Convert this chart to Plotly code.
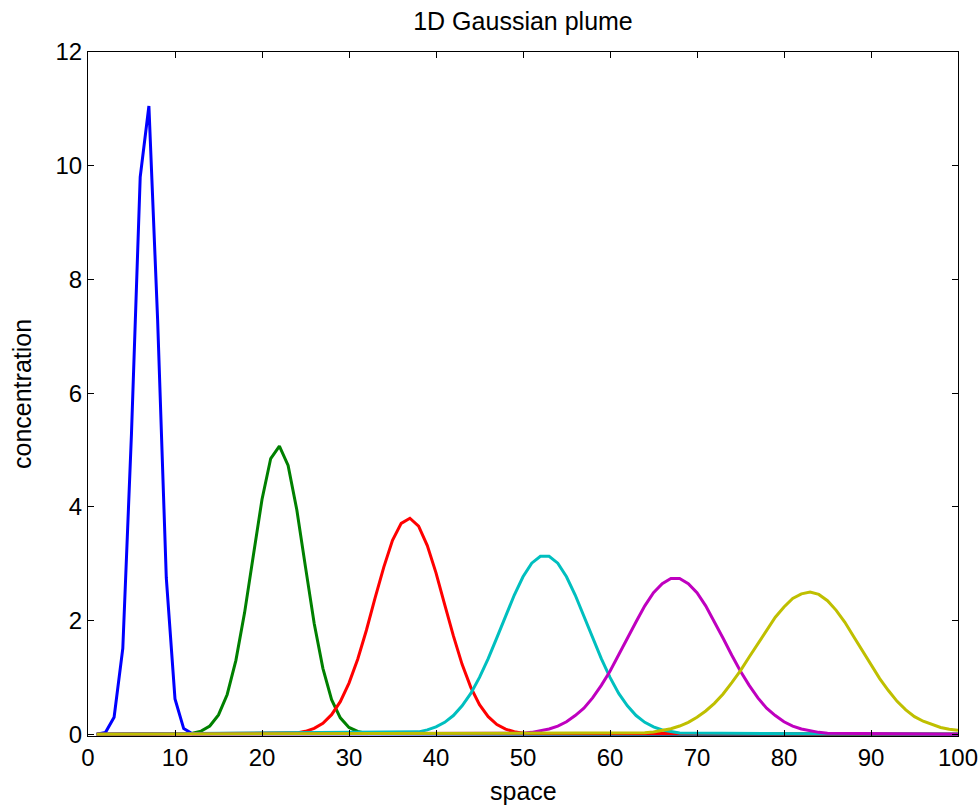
import plotly.graph_objects as go

# ---- data ----
blue_x = [1, 2, 3, 4, 5, 6, 7, 8, 9, 10, 11, 12, 100]
blue_y = [0, 0.03, 0.3, 1.51, 5.3, 9.8, 11.05, 7.3, 2.75, 0.62, 0.1, 0.01, 0]

green_x = [1, 12, 13, 14, 15, 16, 17, 18, 19, 20, 21, 22, 23, 24, 25, 26, 27, 28, 29, 30, 31, 32, 100]
green_y = [0, 0.02, 0.056, 0.146, 0.34, 0.70, 1.30, 2.14, 3.14, 4.13, 4.85, 5.07, 4.73, 3.95, 2.94,
           1.95, 1.16, 0.61, 0.29, 0.12, 0.05, 0.015, 0]

red_x = [1, 24, 25, 26, 27, 28, 29, 30, 31, 32, 33, 34, 35, 36, 37, 38, 39, 40, 41, 42, 43, 44, 45,
         46, 47, 48, 49, 50, 100]
red_y = [0, 0.025, 0.052, 0.104, 0.195, 0.345, 0.573, 0.90, 1.32, 1.83, 2.40, 2.94, 3.41, 3.71, 3.80,
         3.66, 3.32, 2.84, 2.28, 1.73, 1.23, 0.825, 0.52, 0.31, 0.17, 0.09, 0.045, 0.02, 0]

cyan_x = [1, 38, 39, 40, 41, 42, 43, 44, 45, 46, 47, 48, 49, 50, 51, 52, 53, 54, 55, 56, 57, 58, 59,
          60, 61, 62, 63, 64, 65, 66, 67, 68, 100]
cyan_y = [0, 0.043, 0.077, 0.13, 0.21, 0.33, 0.50, 0.72, 1.00, 1.33, 1.70, 2.08, 2.45, 2.77, 3.01,
          3.13, 3.13, 3.01, 2.77, 2.45, 2.08, 1.70, 1.33, 1.00, 0.72, 0.50, 0.33, 0.21, 0.13, 0.077,
          0.043, 0.022, 0]

magenta_x = [1, 50, 51, 52, 53, 54, 55, 56, 57, 58, 59, 60, 61, 62, 63, 64, 65, 66, 67, 68, 69, 70,
             71, 72, 73, 74, 75, 76, 77, 78, 79, 80, 81, 82, 83, 84, 85, 100]
magenta_y = [0, 0.02, 0.034, 0.057, 0.093, 0.145, 0.22, 0.33, 0.46, 0.64, 0.86, 1.11, 1.39, 1.69,
             1.98, 2.26, 2.49, 2.65, 2.74, 2.74, 2.65, 2.49, 2.26, 1.98, 1.69, 1.39, 1.11, 0.86,
             0.64, 0.46, 0.33, 0.22, 0.145, 0.093, 0.057, 0.034, 0.02, 0]

yellow_x = [1, 63, 64, 65, 66, 67, 68, 69, 70, 71, 72, 73, 74, 75, 76, 77, 78, 79, 80, 81, 82, 83,
            84, 85, 86, 87, 88, 89, 90, 91, 92, 93, 94, 95, 96, 97, 98, 99, 100]
yellow_y = [0, 0.015, 0.026, 0.041, 0.064, 0.098, 0.145, 0.21, 0.30, 0.41, 0.545, 0.71, 0.91, 1.12,
            1.36, 1.60, 1.84, 2.06, 2.24, 2.39, 2.47, 2.50, 2.46, 2.35, 2.18, 1.97, 1.72, 1.47,
            1.22, 0.98, 0.77, 0.58, 0.43, 0.31, 0.23, 0.17, 0.12, 0.09, 0.07]

x_ticks = [0, 10, 20, 30, 40, 50, 60, 70, 80, 90, 100]
y_ticks = [0, 2, 4, 6, 8, 10, 12]

series = [
    (blue_x, blue_y, "rgb(0,0,255)"),
    (green_x, green_y, "rgb(0,128,0)"),
    (red_x, red_y, "rgb(255,0,0)"),
    (cyan_x, cyan_y, "rgb(0,191,191)"),
    (magenta_x, magenta_y, "rgb(191,0,191)"),
    (yellow_x, yellow_y, "rgb(191,191,0)"),
]

FONT = "Liberation Sans, Arial, sans-serif"

fig = go.Figure()
for xs, ys, col in series:
    fig.add_trace(go.Scatter(x=xs, y=ys, mode="lines",
                             line=dict(color=col, width=3), showlegend=False,
                             hoverinfo="skip"))

axis_common = dict(showgrid=False, zeroline=False, showline=True, linecolor="black",
                   linewidth=1, mirror="ticks", ticks="inside", ticklen=6,
                   tickcolor="black", tickwidth=1, automargin=False,
                   tickfont=dict(family=FONT, size=24, color="black"))

fig.update_xaxes(range=[0, 100], tickvals=x_ticks, ticktext=[str(v) for v in x_ticks],
                 **axis_common)
fig.update_yaxes(range=[-0.03, 12], tickvals=y_ticks, ticktext=[str(v) for v in y_ticks],
                 **axis_common)

fig.update_layout(
    width=980, height=806,
    margin=dict(l=88, r=22, t=52, b=70),
    paper_bgcolor="white", plot_bgcolor="white",
    title=dict(text="1D Gaussian plume", font=dict(family=FONT, size=25, color="black"),
               x=0.5, xref="paper", xanchor="center", y=1 - 21 / 806, yref="container",
               yanchor="middle"),
    annotations=[
        dict(text="space", xref="paper", yref="paper", x=0.5, y=0, xanchor="center",
             yanchor="middle", yshift=-55, showarrow=False,
             font=dict(family=FONT, size=25, color="black")),
        dict(text="concentration", xref="paper", yref="paper", x=0, y=0.5, xanchor="center",
             yanchor="middle", xshift=-66, textangle=-90, showarrow=False,
             font=dict(family=FONT, size=25, color="black")),
    ],
)

fig.write_html("out.html")
